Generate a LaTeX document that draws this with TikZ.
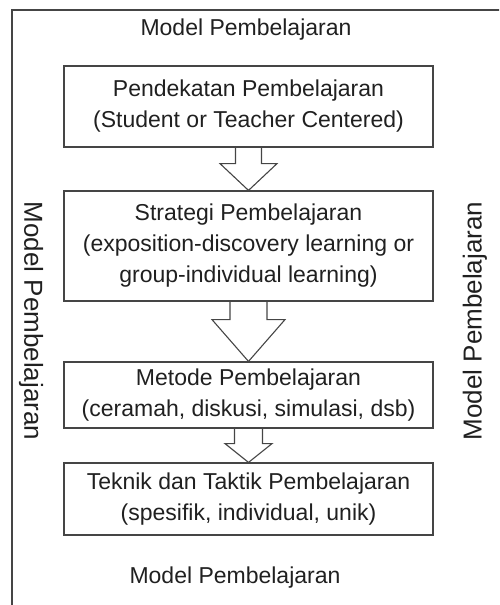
\documentclass[tikz,border=0pt]{standalone}
\usepackage{fontspec}
\setmainfont{Liberation Sans}
\usetikzlibrary{calc}

\definecolor{linegray}{HTML}{454545}
\definecolor{textgray}{HTML}{202020}

\begin{document}
\begin{tikzpicture}[x=1pt,y=-1pt,
    label text/.style={text=textgray, font=\fontsize{23}{30}\selectfont},
    side text/.style={text=textgray, font=\fontsize{26}{30}\selectfont}]

        \clip (0,0) rectangle (499,605);
        \draw[linegray, line width=1.3pt] (12,10) rectangle (530,630);

        \node[label text] (top)    at (246,30)  {Model Pembelajaran};
        \node[label text] (bottom) at (235,578) {Model Pembelajaran};
        \node[side text, rotate=-90] (left)  at (31,321)  {Model Pembelajaran};
        \node[side text, rotate=90]  (right) at (475,321) {Model Pembelajaran};

        \begin{scope}[every node/.style={draw=linegray, line width=1.2pt, text=textgray,
            minimum width=369pt, align=center, inner sep=0pt,
            font=\fontsize{23}{31}\selectfont}]
          \node (1) at (248.5,106.5) [minimum height=81pt]
            {Pendekatan Pembelajaran\\(Student or Teacher Centered)};
          \node (2) at (248.5,246) [minimum height=110pt]
            {Strategi Pembelajaran\\(exposition-discovery learning or\\group-individual learning)};
          \node (3) at (248.5,395) [minimum height=66pt]
            {Metode Pembelajaran\\(ceramah, diskusi, simulasi, dsb)};
          \node (4) at (248.5,499) [minimum height=72pt]
            {Teknik dan Taktik Pembelajaran\\(spesifik, individual, unik)};
        \end{scope}

        \begin{scope}[every path/.style={draw=linegray, line width=1.1pt, line join=miter}]
          \path ($(1.south)+(-13,0)$) -- ++(0,16) -- ++(-15.5,0) -- (2.north)
                -- ($(1.south)+(28.5,16)$) -- ++(-15.5,0) -- ++(0,-16);
          \path ($(2.south)+(-18.5,0)$) -- ++(0,18) -- ++(-18,0) -- (3.north)
                -- ($(2.south)+(36.5,18)$) -- ++(-18,0) -- ++(0,-18);
          \path ($(3.south)+(-14,0)$) -- ++(0,15) -- ++(-9.5,0) -- (4.north)
                -- ($(3.south)+(23.5,15)$) -- ++(-9.5,0) -- ++(0,-15);
        \end{scope}

      \end{tikzpicture}
\end{document}
